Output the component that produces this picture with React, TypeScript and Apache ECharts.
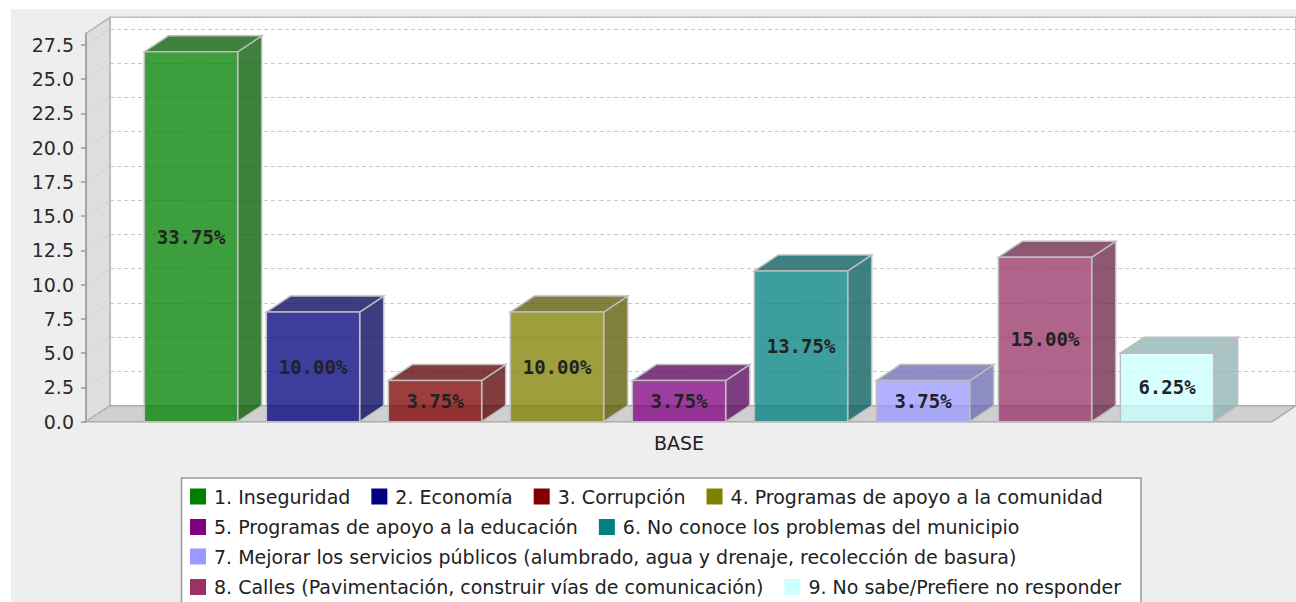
import React, { useEffect, useRef } from "react";
import * as echarts from "echarts";

// ---------------- data ----------------
const categories = ["BASE"];
const seriesNames = [
  "1. Inseguridad",
  "2. Economía",
  "3. Corrupción",
  "4. Programas de apoyo a la comunidad",
  "5. Programas de apoyo a la educación",
  "6. No conoce los problemas del municipio",
  "7. Mejorar los servicios públicos (alumbrado, agua y drenaje, recolección de basura)",
  "8. Calles (Pavimentación, construir vías de comunicación)",
  "9. No sabe/Prefiere no responder",
];
const seriesValues = [27, 8, 3, 8, 3, 11, 3, 12, 5];
const seriesColors = [
  "#008000",
  "#000080",
  "#800000",
  "#808000",
  "#800080",
  "#008080",
  "#9999ff",
  "#993366",
  "#ccffff",
];
const yTicks = [0, 2.5, 5, 7.5, 10, 12.5, 15, 17.5, 20, 22.5, 25, 27.5];
const legendRows = [[0, 1, 2, 3], [4, 5], [6], [7, 8]];

// ---------------- layout / style ----------------
const GRID_L = 75;
const GRID_T = 24.3;
const GRID_W = 1186;
const GRID_H = 388.4;
const Y_MAX = 28.35;
const DX = 24;
const DY = 16;
const BAR_FRAC = 93.3 / 1186;
const GAP_FRAC = 28.7 / 1186;
const ALPHA = 0.76;
const FONT = "DejaVu Sans";
const LEGEND_TOPS = [478, 508.5, 538, 568.5];

function parseHex(hex: string): number[] {
  const h = hex.replace("#", "");
  return [0, 2, 4].map((i) => parseInt(h.slice(i, i + 2), 16));
}
function rgba(c: number[], a: number) {
  return `rgba(${c[0]},${c[1]},${c[2]},${a})`;
}
function darker(c: number[]) {
  return c.map((v) => Math.floor(v * 0.7));
}

const total = seriesValues.reduce((a, b) => a + b, 0);

export default function App() {
  const ref = useRef<HTMLDivElement>(null);

  useEffect(() => {
    if (!ref.current) return;
    const chart = echarts.init(ref.current, undefined, { renderer: "svg" });
    const N = seriesValues.length;

    const barSeries = seriesValues.map((v, i) => ({
      type: "custom",
      name: seriesNames[i],
      xAxisIndex: 0,
      yAxisIndex: 0,
      z: 3,
      silent: true,
      itemStyle: { color: seriesColors[i] },
      encode: { x: 0, y: 1 },
      data: [[0, v]],
      renderItem: (params: any, api: any) => {
        const top = api.coord([api.value(0), api.value(1)]);
        const base = api.coord([api.value(0), 0]);
        const band = api.size([1, 0])[0];
        const bandStart = top[0] - band / 2;
        const barW = band * BAR_FRAC;
        const gap = band * GAP_FRAC;
        const margin = (band - N * barW - (N - 1) * gap) / 2;
        const x = bandStart + margin + i * (barW + gap);
        const yT = top[1];
        const yB = base[1];
        const c = parseHex(seriesColors[i]);
        const dk = darker(c);
        const stroke = "#bdbdbd";
        const pct = ((api.value(1) / total) * 100).toFixed(2) + "%";
        return {
          type: "group",
          children: [
            {
              type: "polygon",
              shape: {
                points: [
                  [x + barW, yT],
                  [x + barW + DX, yT - DY],
                  [x + barW + DX, yB - DY],
                  [x + barW, yB],
                ],
              },
              style: { fill: rgba(dk, ALPHA), stroke, lineWidth: 1.5 },
            },
            {
              type: "polygon",
              shape: {
                points: [
                  [x, yT],
                  [x + DX, yT - DY],
                  [x + barW + DX, yT - DY],
                  [x + barW, yT],
                ],
              },
              style: { fill: rgba(dk, ALPHA), stroke, lineWidth: 1.5 },
            },
            {
              type: "rect",
              shape: { x, y: yT, width: barW, height: yB - yT },
              style: { fill: rgba(c, ALPHA), stroke, lineWidth: 1.5 },
            },
            {
              type: "text",
              x: x + barW / 2,
              y: (yT + yB) / 2,
              style: {
                text: pct,
                fill: "#222",
                font: `bold 19px "DejaVu Sans Mono"`,
                align: "center",
                verticalAlign: "middle",
              },
            },
          ],
        };
      },
    }));

    const diagSeries = {
      type: "custom",
      name: "grid3d",
      xAxisIndex: 0,
      yAxisIndex: 0,
      z: 2,
      silent: true,
      encode: { x: 0, y: 1 },
      data: yTicks.map((t) => [0, t]),
      renderItem: (params: any, api: any) => {
        const p = api.coord([0, api.value(1)]);
        const x0 = params.coordSys.x;
        return {
          type: "line",
          shape: { x1: x0, y1: p[1], x2: x0 + DX, y2: p[1] - DY },
          style: { stroke: "#cdcdcd", lineWidth: 1, lineDash: [3, 3] },
        };
      },
    };

    const option: any = {
      animation: false,
      backgroundColor: "transparent",
      grid: [
        { left: GRID_L, top: GRID_T, width: GRID_W, height: GRID_H, containLabel: false },
        {
          left: GRID_L + DX,
          top: GRID_T - DY,
          width: GRID_W,
          height: GRID_H,
          show: true,
          backgroundColor: "#ffffff",
          borderColor: "#b8b8b8",
          borderWidth: 1.5,
        },
      ],
      xAxis: [
        {
          type: "category",
          gridIndex: 0,
          data: categories,
          axisLine: { show: false },
          axisTick: { show: false },
          axisLabel: { fontSize: 19, color: "#222", fontFamily: FONT, margin: 12 },
        },
        { type: "category", gridIndex: 1, data: categories, show: false },
      ],
      yAxis: [
        {
          type: "value",
          gridIndex: 0,
          min: 0,
          max: Y_MAX,
          interval: 2.5,
          z: 10,
          axisLine: { show: true, lineStyle: { color: "#9a9a9a", width: 1.5 } },
          axisTick: {
            show: true,
            length: 5,
            customValues: yTicks,
            lineStyle: { color: "#9a9a9a", width: 1.5 },
          },
          axisLabel: {
            customValues: yTicks,
            fontSize: 19,
            color: "#2a2a2a",
            fontFamily: FONT,
            margin: 12,
            padding: [5, 0, 0, 0],
            formatter: (v: number) => v.toFixed(1),
          },
          splitLine: { show: false },
        },
        {
          type: "value",
          gridIndex: 1,
          min: 0,
          max: Y_MAX,
          interval: 2.5,
          axisLine: { show: false },
          axisTick: { show: false },
          axisLabel: { show: false },
          splitLine: {
            show: true,
            lineStyle: { color: "#c8c8c8", width: 1, type: [4, 3] },
          },
        },
      ],
      legend: legendRows.map((row, r) => ({
        data: row.map((i) => seriesNames[i]),
        left: 179,
        top: LEGEND_TOPS[r],
        orient: "horizontal",
        padding: 0,
        itemGap: 21,
        itemWidth: 16,
        itemHeight: 16,
        icon: "rect",
        selectedMode: false,
        textStyle: {
          fontSize: 19,
          color: "#222",
          fontFamily: FONT,
          lineHeight: 16,
          padding: [0, 0, 0, 3],
        },
      })),
      graphic: [
        {
          type: "polygon",
          z: 1,
          silent: true,
          shape: {
            points: [
              [GRID_L, GRID_T + GRID_H],
              [GRID_L, GRID_T],
              [GRID_L + DX, GRID_T - DY],
              [GRID_L + DX, GRID_T + GRID_H - DY],
            ],
          },
          style: { fill: "#dedede", stroke: "#b5b5b5", lineWidth: 1.5 },
        },
        {
          type: "polygon",
          z: 1,
          silent: true,
          shape: {
            points: [
              [GRID_L, GRID_T + GRID_H],
              [GRID_L + GRID_W, GRID_T + GRID_H],
              [GRID_L + GRID_W + DX, GRID_T + GRID_H - DY],
              [GRID_L + DX, GRID_T + GRID_H - DY],
            ],
          },
          style: { fill: "#d0d0d0", stroke: "#ababab", lineWidth: 1.5 },
        },
        {
          type: "rect",
          z: 1,
          silent: true,
          shape: { x: 170.5, y: 469, width: 959.5, height: 200 },
          style: { fill: "#ffffff", stroke: "#9a9a9a", lineWidth: 1.5 },
        },
      ],
      series: [diagSeries, ...barSeries],
    };

    chart.setOption(option);
    return () => chart.dispose();
  }, []);

  return (
    <div style={{ position: "absolute", left: 0, top: 0, width: 1296, height: 602, background: "#ffffff", overflow: "hidden" }}>
      <div
        ref={ref}
        style={{ position: "absolute", left: 11, top: 9, width: 1285, height: 593, background: "#eeeeee" }}
      />
    </div>
  );
}
